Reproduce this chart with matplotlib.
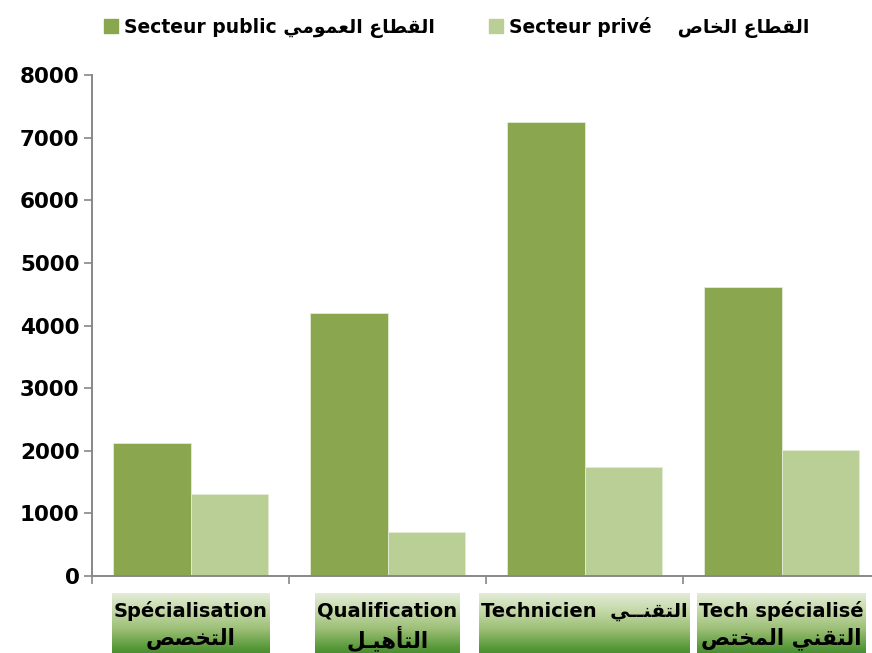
import numpy as np
import matplotlib
matplotlib.use("Agg")
import matplotlib.pyplot as plt
from matplotlib.colors import LinearSegmentedColormap
from matplotlib.patches import Patch
import matplotlib.transforms as mtransforms

# donnees
categories = ["Spécialisation", "Qualification", "Technicien", "Tech spécialisé"]
categories_ar = ["التخصص", "التأهيـل", "التقنــي", "التقني المختص"]
public = [2120, 4210, 7255, 4620]
prive = [1310, 705, 1745, 2010]
series_fr = ["Secteur public", "Secteur privé"]
series_ar = ["القطاع العمومي", "القطاع الخاص"]
yticks = [0, 1000, 2000, 3000, 4000, 5000, 6000, 7000, 8000]

DARK = "#8AA64F"
LIGHT = "#B9CF96"
GRIS = "#888888"

# mise en forme arabe "a la main" (matplotlib ne fait pas le shaping)
FORMS = {
    'ا': ('\uFE8D', '\uFE8E', None, None),
    'أ': ('\uFE83', '\uFE84', None, None),
    'و': ('\uFEED', '\uFEEE', None, None),
    'ل': ('\uFEDD', '\uFEDE', '\uFEDF', '\uFEE0'),
    'ق': ('\uFED5', '\uFED6', '\uFED7', '\uFED8'),
    'ط': ('\uFEC1', '\uFEC2', '\uFEC3', '\uFEC4'),
    'ع': ('\uFEC9', '\uFECA', '\uFECB', '\uFECC'),
    'م': ('\uFEE1', '\uFEE2', '\uFEE3', '\uFEE4'),
    'ي': ('\uFEF1', '\uFEF2', '\uFEF3', '\uFEF4'),
    'خ': ('\uFEA5', '\uFEA6', '\uFEA7', '\uFEA8'),
    'ص': ('\uFEB9', '\uFEBA', '\uFEBB', '\uFEBC'),
    'ت': ('\uFE95', '\uFE96', '\uFE97', '\uFE98'),
    'ن': ('\uFEE5', '\uFEE6', '\uFEE7', '\uFEE8'),
    'ه': ('\uFEE9', '\uFEEA', '\uFEEB', '\uFEEC'),
    'ـ': ('\u0640', '\u0640', '\u0640', '\u0640'),
}
LIG = {'لا': ('\uFEFB', '\uFEFC', None, None), 'لأ': ('\uFEF7', '\uFEF8', None, None)}


def shape(txt):
    tokens = []
    i = 0
    while i < len(txt):
        if txt[i] == 'ل' and i + 1 < len(txt) and txt[i + 1] in 'اأ':
            tokens.append(txt[i:i + 2])
            i += 2
        else:
            tokens.append(txt[i])
            i += 1

    def forms(t):
        return FORMS.get(t) or LIG.get(t)

    def dual(t):
        f = forms(t)
        return f is not None and f[2] is not None

    out = []
    for k, t in enumerate(tokens):
        f = forms(t)
        if f is None:
            out.append(t)
            continue
        prev = tokens[k - 1] if k > 0 else None
        nxt = tokens[k + 1] if k + 1 < len(tokens) else None
        jp = prev is not None and dual(prev)
        jn = nxt is not None and dual(t) and forms(nxt) is not None
        if jp and jn:
            out.append(f[3])
        elif jp:
            out.append(f[1])
        elif jn:
            out.append(f[2])
        else:
            out.append(f[0])
    return ''.join(reversed(out))


plt.rcParams['font.family'] = ['DejaVu Sans']
plt.rcParams['font.weight'] = 'bold'

W, H = 872, 653
fig = plt.figure(figsize=(8.72, 6.53), dpi=100)
ax = fig.add_axes([92 / W, 77 / H, 788 / W, 500.7 / H])
ax.patch.set_visible(False)

x = np.arange(len(categories))
w = 0.395
b1 = ax.bar(x - w / 2, public, w, color=DARK, edgecolor="#E3ECD5", linewidth=0.6)
b2 = ax.bar(x + w / 2, prive, w, color=LIGHT, edgecolor="#E3ECD5", linewidth=0.6)

ax.set_xlim(-0.5, len(categories) - 0.5)
ax.set_ylim(0, 8000)
ax.set_yticks(yticks)
ax.set_yticklabels([str(v) for v in yticks], fontsize=15.5, fontweight='bold')
ax.set_xticks([])
ax.set_xticks(np.arange(len(categories) + 1) - 0.5, minor=True)
ax.tick_params(axis='x', which='minor', direction='out', length=6, width=1.2, color=GRIS)
ax.tick_params(axis='y', direction='out', length=6, width=1.2, color=GRIS, pad=3)
for s in ['top', 'right']:
    ax.spines[s].set_visible(False)
for s in ['left', 'bottom']:
    ax.spines[s].set_color(GRIS)
    ax.spines[s].set_linewidth(1.4)

# legende
labels = [series_fr[0] + " " + shape(series_ar[0]), series_fr[1] + "    " + shape(series_ar[1])]
handles = [Patch(color=DARK), Patch(color=LIGHT)]
fig.legend(handles, labels, loc='center left', bbox_to_anchor=(104 / W, (H - 27) / H),
           ncol=2, frameon=False, handlelength=0.75, handleheight=0.75,
           handletextpad=0.3, columnspacing=2.9, borderpad=0, borderaxespad=0,
           prop={'weight': 'bold', 'size': 13.5})

# etiquettes de categories dans des boites en degrade
trans = mtransforms.blended_transform_factory(ax.transData, fig.transFigure)
textes = []
for i, (fr, ar) in enumerate(zip(categories, categories_ar)):
    if fr == "Technicien":
        t1 = ax.text(i, (H - 611) / H, fr + "  " + shape(ar), transform=trans,
                     ha='center', va='center', fontsize=14, fontweight='bold', zorder=5)
        textes.append([t1])
    else:
        t1 = ax.text(i, (H - 611) / H, fr, transform=trans,
                     ha='center', va='center', fontsize=14, fontweight='bold', zorder=5)
        t2 = ax.text(i, (H - 639) / H, shape(ar), transform=trans,
                     ha='center', va='center', fontsize=15.5, fontweight='bold', zorder=5)
        textes.append([t1, t2])

fig.canvas.draw()
r = fig.canvas.get_renderer()
cmap = LinearSegmentedColormap.from_list("vert", ["#E3ECD7", "#C3D8A6", "#9CBF76", "#5A9A3C", "#2B7420"])
grad = np.linspace(0, 1, 256).reshape(-1, 1)
for tt in textes:
    x0 = min(t.get_window_extent(r).x0 for t in tt) - 2
    x1 = max(t.get_window_extent(r).x1 for t in tt) + 2
    bax = fig.add_axes([x0 / W, -12 / H, (x1 - x0) / W, (60 + 12) / H], zorder=-1)
    bax.imshow(grad, aspect='auto', cmap=cmap, extent=[0, 1, 0, 1])
    bax.set_axis_off()

fig.savefig("out.png", dpi=100)
